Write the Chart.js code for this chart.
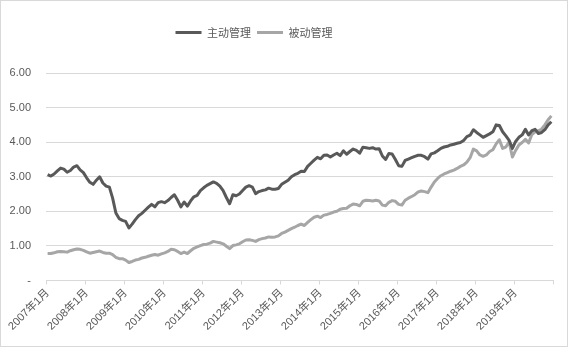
<!DOCTYPE html>
<html>
<head>
<meta charset="utf-8">
<script src="https://cdn.jsdelivr.net/npm/chart.js@4.4.1/dist/chart.umd.min.js"></script>
<style>
html, body { margin: 0; padding: 0; background: #fff; }
#box { width: 568px; height: 347px; box-sizing: border-box; border: 1px solid #d9d9d9; }
#box canvas { display: block; }
</style>
</head>
<body>
<div id="box"><canvas id="c" width="566" height="345"></canvas></div>
<script>
// 月份 2007年1月 - 2019年12月
const years = [2007, 2008, 2009, 2010, 2011, 2012, 2013, 2014, 2015, 2016, 2017, 2018, 2019];
const months = [1, 2, 3, 4, 5, 6, 7, 8, 9, 10, 11, 12];
const yTicks = [0, 1, 2, 3, 4, 5, 6];

// 主动管理
const activeValues = [
    3.06, 3.02, 3.08, 3.17, 3.25, 3.22, 3.13, 3.18, 3.28, 3.32, 3.20, 3.12,
    2.97, 2.84, 2.78, 2.90, 3.00, 2.82, 2.73, 2.70, 2.38, 1.95, 1.79, 1.74,
    1.71, 1.52, 1.63, 1.76, 1.87, 1.94, 2.03, 2.12, 2.20, 2.13, 2.25, 2.28,
    2.25, 2.31, 2.40, 2.48, 2.32, 2.13, 2.27, 2.15, 2.30, 2.42, 2.46, 2.60,
    2.68, 2.75, 2.80, 2.85, 2.81, 2.73, 2.60, 2.40, 2.22, 2.48, 2.45, 2.50,
    2.60, 2.70, 2.74, 2.70, 2.51, 2.57, 2.60, 2.62, 2.67, 2.64, 2.64, 2.66,
    2.78, 2.84, 2.90, 3.00, 3.06, 3.10, 3.16, 3.15, 3.30, 3.39, 3.48, 3.56,
    3.52, 3.62, 3.63, 3.57, 3.63, 3.68, 3.61, 3.75, 3.65, 3.73, 3.80, 3.76,
    3.68, 3.85, 3.84, 3.82, 3.84, 3.80, 3.81, 3.60, 3.50, 3.67, 3.66, 3.50,
    3.32, 3.30, 3.47, 3.51, 3.55, 3.59, 3.62, 3.62, 3.58, 3.51, 3.66, 3.69,
    3.75, 3.82, 3.86, 3.88, 3.92, 3.94, 3.97, 3.99, 4.05, 4.16, 4.20, 4.36,
    4.28, 4.21, 4.14, 4.19, 4.24, 4.30, 4.50, 4.48, 4.30, 4.18, 4.05, 3.82,
    4.02, 4.14, 4.21, 4.37, 4.21, 4.33, 4.37, 4.25, 4.28, 4.36, 4.50, 4.59
];

// 被动管理
const passiveValues = [
    0.78, 0.78, 0.80, 0.83, 0.84, 0.83, 0.82, 0.86, 0.89, 0.91, 0.90, 0.87,
    0.83, 0.79, 0.81, 0.83, 0.85, 0.81, 0.79, 0.79, 0.75, 0.67, 0.63, 0.63,
    0.59, 0.52, 0.55, 0.59, 0.61, 0.65, 0.67, 0.70, 0.73, 0.75, 0.73, 0.77,
    0.80, 0.84, 0.90, 0.89, 0.84, 0.78, 0.82, 0.78, 0.86, 0.93, 0.97, 1.01,
    1.04, 1.05, 1.08, 1.13, 1.11, 1.09, 1.06, 0.99, 0.92, 1.01, 1.03, 1.06,
    1.12, 1.17, 1.18, 1.16, 1.13, 1.18, 1.21, 1.23, 1.26, 1.25, 1.26, 1.29,
    1.36, 1.40, 1.45, 1.50, 1.54, 1.59, 1.63, 1.59, 1.68, 1.76, 1.83, 1.86,
    1.82, 1.89, 1.91, 1.94, 1.98, 2.00, 2.06, 2.08, 2.09, 2.16, 2.21, 2.20,
    2.16, 2.29, 2.32, 2.31, 2.30, 2.32, 2.30, 2.18, 2.16, 2.26, 2.31, 2.29,
    2.20, 2.18, 2.32, 2.38, 2.43, 2.48, 2.56, 2.59, 2.57, 2.54, 2.70, 2.85,
    2.95, 3.03, 3.08, 3.12, 3.16, 3.19, 3.24, 3.30, 3.34, 3.42, 3.55, 3.80,
    3.75, 3.63, 3.59, 3.63, 3.73, 3.78, 3.95, 4.07, 3.82, 3.86, 4.01, 3.57,
    3.76, 3.92, 3.99, 4.08, 3.98, 4.22, 4.30, 4.33, 4.38, 4.50, 4.65, 4.76
];

const labels = [];
years.forEach(y => months.forEach(m => labels.push(y + '年' + m + '月')));

const textColor = '#595959';
const gridColor = '#d9d9d9';
const fontFamily = "'Liberation Sans', 'Noto Sans CJK SC', sans-serif";

// 图例: 往左挪一点, 下面多留空白
const legendTweak = {
    id: 'legendTweak',
    beforeInit(chart) {
        const legend = chart.legend;
        const fit = legend.fit;
        legend.fit = function () {
            fit.call(this);
            this.height += 25;
        };
    },
    afterUpdate(chart) {
        chart.legend.left -= 23;
        chart.legend.right -= 23;
    }
};

new Chart(document.getElementById('c'), {
    type: 'line',
    data: {
        labels: labels,
        datasets: [
            {
                label: '主动管理',
                data: activeValues,
                borderColor: '#595959',
                backgroundColor: '#595959',
                borderWidth: 3,
                pointRadius: 0,
                tension: 0,
                borderJoinStyle: 'round',
            },
            {
                label: '被动管理',
                data: passiveValues,
                borderColor: '#a6a6a6',
                backgroundColor: '#a6a6a6',
                borderWidth: 3,
                pointRadius: 0,
                tension: 0,
                borderJoinStyle: 'round',
            },
        ],
    },
    options: {
        responsive: false,
        animation: false,
        layout: { padding: { top: 20, left: 0, right: 14, bottom: 11 } },
        plugins: {
            legend: {
                display: true,
                position: 'top',
                labels: {
                    usePointStyle: true,
                    pointStyle: 'line',
                    pointStyleWidth: 26,
                    padding: 6,
                    color: textColor,
                    font: { family: "'Noto Sans CJK SC', sans-serif", size: 11 },
                },
            },
            tooltip: { enabled: false },
        },
        scales: {
            x: {
                offset: true,
                grid: {
                    offset: true,
                    drawOnChartArea: false,
                    drawTicks: true,
                    tickLength: 4,
                    color: ctx => (ctx.index === undefined || ctx.index % 12 === 0) ? gridColor : 'rgba(0,0,0,0)',
                },
                border: { display: true, color: gridColor },
                ticks: {
                    autoSkip: false,
                    maxRotation: 45,
                    minRotation: 45,
                    padding: 2,
                    color: textColor,
                    font: { family: fontFamily, size: 11 },
                    callback: (v, i) => i % 12 === 0 ? labels[i] : '',
                },
            },
            y: {
                min: 0,
                max: 6,
                afterBuildTicks: axis => { axis.ticks = yTicks.map(v => ({ value: v })); },
                afterFit: axis => { axis.width = 45; },
                grid: { color: gridColor, drawTicks: false },
                border: { display: false },
                ticks: {
                    padding: 15,
                    color: textColor,
                    font: { family: fontFamily, size: 11 },
                    callback: v => v === 0 ? '-' : v.toFixed(2),
                },
            },
        },
    },
    plugins: [legendTweak],
});
</script>
</body>
</html>
